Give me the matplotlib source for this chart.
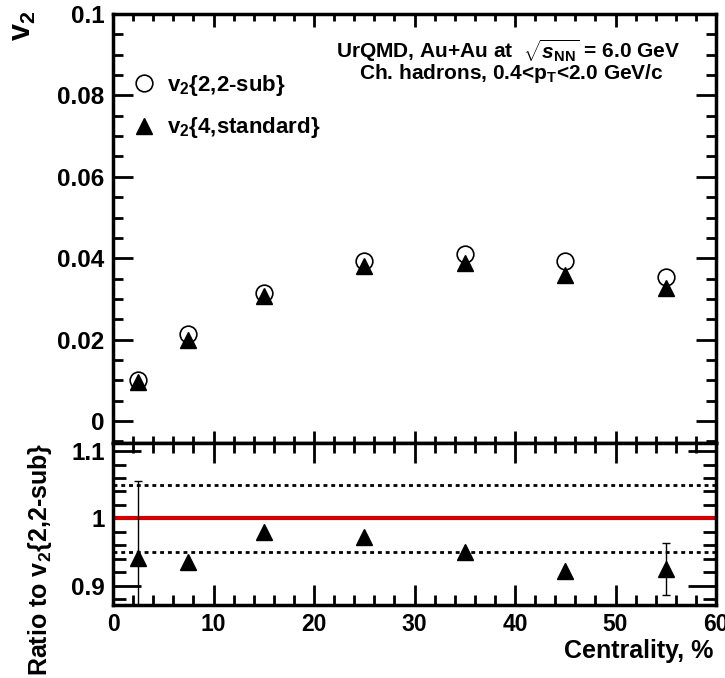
import matplotlib
matplotlib.use('Agg')
import matplotlib.pyplot as plt
from matplotlib.ticker import MultipleLocator, FuncFormatter

plt.rcParams['font.family'] = ['Liberation Sans', 'DejaVu Sans']
plt.rcParams['font.weight'] = 'bold'
plt.rcParams['mathtext.fontset'] = 'custom'
plt.rcParams['mathtext.rm'] = 'Liberation Sans:bold'
plt.rcParams['mathtext.it'] = 'Liberation Sans:bold:italic'
plt.rcParams['mathtext.bf'] = 'Liberation Sans:bold'

# centrality bin centres (%)
centrality = [2.5, 7.5, 15, 25, 35, 45, 55]
v2_2sub = [0.0101, 0.0213, 0.0314, 0.0392, 0.0410, 0.0393, 0.0355]
v2_4std = [0.0096, 0.0199, 0.0307, 0.0381, 0.0388, 0.0359, 0.0328]
ratio = [0.941, 0.935, 0.980, 0.972, 0.950, 0.922, 0.924]
ratio_err = [0.115, 0.0, 0.0, 0.0, 0.0, 0.0, 0.0385]

W, H = 725, 678
fig = plt.figure(figsize=(W / 100, H / 100), dpi=100)
x0, x1 = 113, 716
ax1 = fig.add_axes([x0 / W, 1 - 443 / H, (x1 - x0) / W, (443 - 14) / H])
ax2 = fig.add_axes([x0 / W, 1 - 605 / H, (x1 - x0) / W, (605 - 443) / H])

# top panel
ax1.plot(centrality, v2_2sub, 'o', ms=12, mfc='none', mec='black', mew=1.2,
         label=r'v$_2${2,2-sub}')
ax1.plot(centrality, v2_4std, '^', ms=11.5, color='black',
         label=r'v$_2${4,standard}')
ax1.set_xlim(0, 60)
ax1.set_ylim(-0.0054, 0.1)
ax1.yaxis.set_major_locator(MultipleLocator(0.02))
ax1.yaxis.set_minor_locator(MultipleLocator(0.005))
ax1.yaxis.set_major_formatter(FuncFormatter(lambda v, p: '%g' % round(v, 4)))
ax1.xaxis.set_major_locator(MultipleLocator(10))
ax1.xaxis.set_minor_locator(MultipleLocator(2))
ax1.tick_params(axis='x', labelbottom=False)
ax1.tick_params(axis='y', which='major', length=14.5, width=2, labelsize=17.5, pad=6)
ax1.tick_params(axis='y', which='minor', length=7.5, width=2)
ax1.tick_params(axis='x', which='major', length=9, width=2)
ax1.tick_params(axis='x', which='minor', length=5, width=2)
ax1.tick_params(which='both', direction='in', top=True, right=True)

leg = ax1.legend(loc='upper left', bbox_to_anchor=(0.0, 0.91), frameon=False,
                 fontsize=16, handlelength=1.0, handletextpad=0.55,
                 labelspacing=0.8, borderaxespad=0.5)

ax1.text(0.655, 0.897, r'UrQMD, Au+Au at  $\sqrt{s_{\mathrm{NN}}}$ = 6.0 GeV',
         transform=ax1.transAxes, ha='center', va='baseline', fontsize=15)
ax1.text(0.66, 0.848, r'Ch. hadrons, 0.4<p$_\mathrm{T}$<2.0 GeV/c',
         transform=ax1.transAxes, ha='center', va='baseline', fontsize=15)

# bottom panel
ax2.axhline(1.0, color='#d00000', lw=3)
ax2.axhline(1.05, color='black', lw=2, ls=(0, (1.4, 1.4)))
ax2.axhline(0.95, color='black', lw=2, ls=(0, (1.4, 1.4)))
ax2.errorbar(centrality, ratio, yerr=ratio_err, fmt='^', ms=11.5, color='black',
             elinewidth=1, capsize=3, capthick=1)
ax2.set_xlim(0, 60)
ax2.set_ylim(0.871, 1.112)
ax2.yaxis.set_major_locator(MultipleLocator(0.1))
ax2.yaxis.set_minor_locator(MultipleLocator(0.02))
ax2.yaxis.set_major_formatter(FuncFormatter(lambda v, p: '%g' % round(v, 3)))
ax2.xaxis.set_major_locator(MultipleLocator(10))
ax2.xaxis.set_minor_locator(MultipleLocator(2))
ax2.tick_params(axis='y', which='major', length=20, width=2, labelsize=17.5, pad=6)
ax2.tick_params(axis='y', which='minor', length=9.5, width=2)
ax2.tick_params(axis='x', which='major', length=14.5, width=2, labelsize=16.5, pad=6)
ax2.tick_params(axis='x', which='minor', length=7, width=2)
ax2.tick_params(which='both', direction='in', top=True, right=True)

for ax in (ax1, ax2):
    for s in ax.spines.values():
        s.set_linewidth(2.5)

fig.text(23 / W, 1 - 11 / H, r'v$_2$', rotation=90, ha='center', va='top',
         fontsize=22)
fig.text(40 / W, 1 - 443 / H, r'Ratio to v$_2${2,2-sub}', rotation=90,
         ha='center', va='top', fontsize=18)
fig.text(713 / W, 1 - 658 / H, 'Centrality, %', ha='right', va='baseline',
         fontsize=18)

fig.savefig('out.png', dpi=100)
